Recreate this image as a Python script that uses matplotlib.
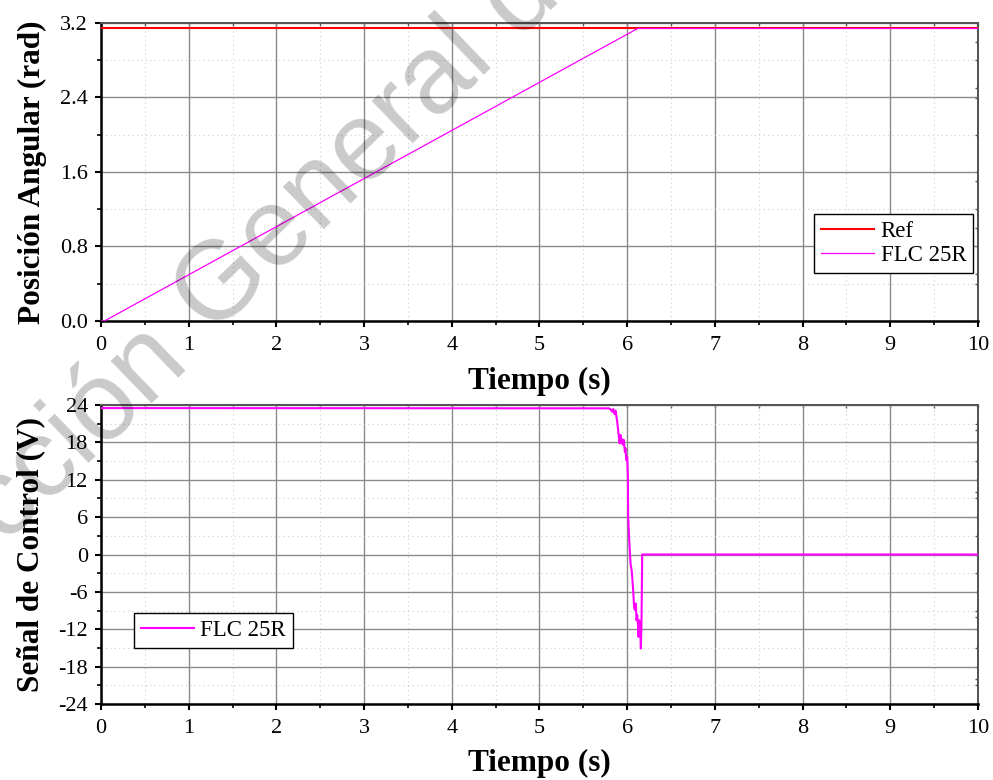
import matplotlib
matplotlib.use("Agg")
import matplotlib.pyplot as plt
from matplotlib.ticker import MultipleLocator
import numpy as np

# ---- data -------------------------------------------------------------
ref_value = 3.1416

# angular position (rad): ramp breakpoints of the FLC 25R response
t_pos = [0.0, 0.04, 6.12, 10.0]
pos_flc = [0.0, 0.0, 3.1416, 3.1416]

# control signal (V) of the FLC 25R controller
t_u = [0.0, 5.791, 5.810, 5.829, 5.840, 5.856, 5.867, 5.886, 5.905, 5.913,
       5.924, 5.932, 5.943, 5.954, 5.962, 5.973, 5.981, 5.989, 6.000, 6.008,
       6.011, 6.023, 6.038, 6.053, 6.068, 6.080, 6.091, 6.099, 6.106, 6.114,
       6.122, 6.129, 6.137, 6.144, 6.152, 6.156, 6.163, 6.171, 6.172, 10.0]
u_flc = [23.5, 23.46, 23.30, 22.92, 23.35, 22.55, 23.09, 21.32, 18.91, 17.84,
         19.18, 17.84, 18.49, 17.57, 18.38, 16.50, 17.03, 15.16, 15.69, 12.48,
         6.05, 2.30, -1.45, -2.79, -5.73, -8.68, -8.94, -7.87, -10.55, -9.75,
         -11.09, -13.23, -10.55, -11.09, -13.50, -15.10, -11.09, 0.0, 0.0, 0.0]

x_ticks = [0, 1, 2, 3, 4, 5, 6, 7, 8, 9, 10]
pos_ticks = [0.0, 0.8, 1.6, 2.4, 3.2]
u_ticks = [-24, -18, -12, -6, 0, 6, 12, 18, 24]

# ---- style ------------------------------------------------------------
plt.rcParams['font.family'] = ['Liberation Serif', 'DejaVu Serif']
plt.rcParams['axes.unicode_minus'] = False
TICK_FS = 16
LABEL_FS = 22.5
LEG_FS = 16.5
MAGENTA = '#FF00FF'
RED = '#FF0000'
FRAME_GREY = '#555555'

fig = plt.figure(figsize=(9.93, 7.80), dpi=100)
ax1 = fig.add_axes([0.1017, 0.5885, 0.8832, 0.3820])
ax2 = fig.add_axes([0.1017, 0.0974, 0.8832, 0.3834])


def style_axes(ax, yminor):
    ax.set_xlim(0, 10)
    ax.xaxis.set_minor_locator(MultipleLocator(0.5))
    ax.yaxis.set_minor_locator(MultipleLocator(yminor))
    ax.grid(True, which='major', color='#8a8a8a', lw=1.0, zorder=0)
    ax.grid(True, which='minor', color='#cfcfcf', lw=0.8,
            linestyle=(0, (1, 3)), zorder=0)
    ax.set_axisbelow(True)
    for side in ('left', 'bottom'):
        ax.spines[side].set_linewidth(1.8)
        ax.spines[side].set_color('black')
    for side in ('top', 'right'):
        ax.spines[side].set_linewidth(1.4)
        ax.spines[side].set_color(FRAME_GREY)
    ax.tick_params(axis='both', which='major', direction='out', length=4.5,
                   width=1.5, labelsize=TICK_FS, color='black')
    ax.tick_params(axis='both', which='minor', direction='out', length=3,
                   width=1.2, color='black')
    ax.tick_params(axis='y', which='major', pad=5)
    ax.tick_params(axis='x', which='major', pad=6)

    # inward tick marks along the top and right frame
    top = ax.secondary_xaxis('top')
    top.set_xticks(x_ticks)
    top.xaxis.set_minor_locator(MultipleLocator(0.5))
    top.tick_params(which='both', direction='in', length=2.5, width=1,
                    color=FRAME_GREY, labeltop=False)
    top.spines['top'].set_color(FRAME_GREY)
    top.spines['top'].set_linewidth(1.4)
    right = ax.secondary_yaxis('right')
    right.yaxis.set_minor_locator(MultipleLocator(yminor))
    right.tick_params(which='both', direction='in', length=2.5, width=1,
                      color=FRAME_GREY, labelright=False)
    right.spines['right'].set_color(FRAME_GREY)
    right.spines['right'].set_linewidth(1.4)
    return ax


# ---- top panel: angular position --------------------------------------
ax1.plot([0, 10], [ref_value, ref_value], color=RED, lw=1.5, label='Ref',
         zorder=3)
ax1.plot(t_pos, pos_flc, color=MAGENTA, lw=0.9, label='FLC 25R', zorder=4)
ax1.set_ylim(0, 3.2)
ax1.set_xticks(x_ticks)
ax1.set_yticks(pos_ticks)
ax1.set_yticklabels([f'{v:.1f}' for v in pos_ticks])
style_axes(ax1, 0.4)
ax1.set_xlabel('Tiempo (s)', fontsize=LABEL_FS, fontweight='bold', labelpad=9)
ax1.set_ylabel('Posición Angular (rad)', fontsize=LABEL_FS, fontweight='bold')
ax1.yaxis.set_label_coords(-0.061, 0.5)
leg1 = ax1.legend(loc='lower right', bbox_to_anchor=(0.9943, 0.161),
                  borderaxespad=0, fontsize=LEG_FS, frameon=True, fancybox=False,
                  edgecolor='black', framealpha=1, handlelength=2.3,
                  handletextpad=0.3, borderpad=0.3, labelspacing=0.15)
leg1.get_frame().set_linewidth(1.0)

# ---- bottom panel: control signal --------------------------------------
ax2.plot(t_u, u_flc, color=MAGENTA, lw=1.5, label='FLC 25R', zorder=4)
ax2.set_ylim(-24, 24)
ax2.set_xticks(x_ticks)
ax2.set_yticks(u_ticks)
style_axes(ax2, 3)
ax2.set_xlabel('Tiempo (s)', fontsize=LABEL_FS, fontweight='bold', labelpad=8)
ax2.set_ylabel('Señal de Control (V)', fontsize=LABEL_FS, fontweight='bold')
ax2.yaxis.set_label_coords(-0.064, 0.5)
leg2 = ax2.legend(loc='lower left', bbox_to_anchor=(0.0376, 0.187),
                  borderaxespad=0, fontsize=LEG_FS, frameon=True, fancybox=False,
                  edgecolor='black', framealpha=1, handlelength=2.3,
                  handletextpad=0.3, borderpad=0.3)
leg2.get_frame().set_linewidth(1.0)

# ---- watermark ----------------------------------------------------------
W, H = 993, 780
wm_angle = 44.0
wm_size = 80                       # points
wm_px = wm_size * 100 / 72         # em size in pixels
ang = np.deg2rad(wm_angle)
x0, y0 = 212, 337                  # baseline start of "General" (pixels, from top)
gap_px = 0.278 * wm_px             # one space
wm_kw = dict(rotation=wm_angle, rotation_mode='anchor', va='baseline',
             fontsize=wm_size, color='black', alpha=0.21,
             family=['Liberation Sans', 'DejaVu Sans'], zorder=10)
fig.text(x0 / W, 1 - y0 / H, 'General de Bibliotecas', ha='left', **wm_kw)
fig.text((x0 - gap_px * np.cos(ang)) / W, 1 - (y0 + gap_px * np.sin(ang)) / H,
         'Dirección', ha='right', **wm_kw)

fig.savefig('out.png', dpi=100)
